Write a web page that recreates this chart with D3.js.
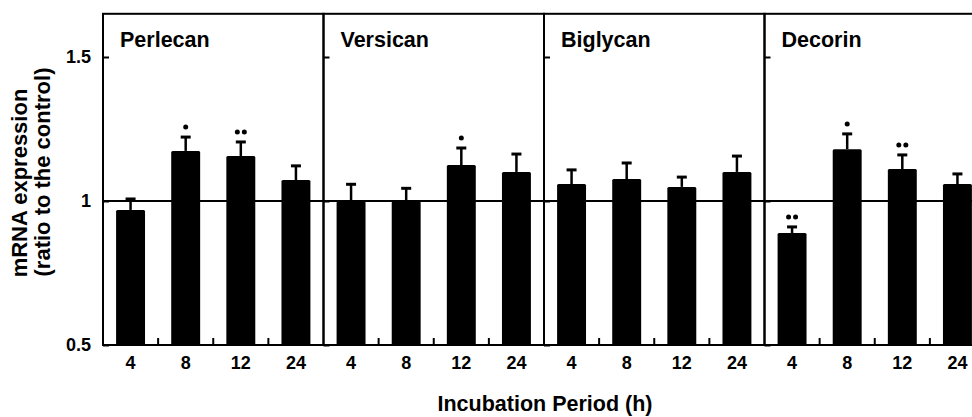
<!DOCTYPE html>
<html>
<head>
<meta charset="utf-8">
<script src="https://cdn.jsdelivr.net/npm/d3@7"></script>
<style>
	body { margin: 0; background: #ffffff; }
	svg { display: block; }
	.gag-text { font-family: "Liberation Sans", Arial, sans-serif; font-weight: bold; fill: #000000; }
</style>
</head>
<body>
<svg id="chart" width="972" height="417"></svg>
<script>

// values
var aGenes = ['Perlecan', 'Versican', 'Biglycan', 'Decorin'];
var aPeriods = ['4', '8', '12', '24'];

var aPerlecan = [0.969, 1.174, 1.156, 1.073];
var aPerlecanSE = [0.038, 0.048, 0.049, 0.049];
var aPerlecanSig = [0, 1, 2, 0];

var aVersican = [0.999, 0.999, 1.125, 1.101];
var aVersicanSE = [0.059, 0.045, 0.059, 0.062];
var aVersicanSig = [0, 0, 1, 0];

var aBiglycan = [1.059, 1.076, 1.049, 1.101];
var aBiglycanSE = [0.049, 0.056, 0.034, 0.055];
var aBiglycanSig = [0, 0, 0, 0];

var aDecorin = [0.889, 1.180, 1.111, 1.059];
var aDecorinSE = [0.021, 0.053, 0.049, 0.035];
var aDecorinSig = [2, 1, 2, 0];

var aTickValues = [0.5, 1, 1.5];
var aTickLabels = ['0.5', '1', '1.5'];


function D3_PanelBars(vSelector)
{
	var sSvg = d3.select(vSelector);
	if (sSvg.empty() == true)
	{
		console.log('D3_PanelBars: Could not identify element based on selector: ' + vSelector);
		return;
	}

	var aMeans = [aPerlecan, aVersican, aBiglycan, aDecorin];
	var aErrors = [aPerlecanSE, aVersicanSE, aBiglycanSE, aDecorinSE];
	var aSigs = [aPerlecanSig, aVersicanSig, aBiglycanSig, aDecorinSig];

	var nLeft = 103;
	var nRight = 985;
	var nAxisY = 345;

	var scaleY = d3.scaleLinear()
		.domain([0.5, 1.5])
		.range([nAxisY, 57]);
	var nTop = scaleY(1.65);

	var scalePanel = d3.scaleBand()
		.domain(aGenes)
		.range([nLeft, nRight]);
	var nPanelWidth = scalePanel.bandwidth();

	var fPadInner = 0.475;
	var scaleX = d3.scaleBand()
		.domain(aPeriods)
		.range([0, nPanelWidth])
		.paddingInner(fPadInner)
		.paddingOuter(fPadInner / 2);

	for (var nGene = 0; nGene < aGenes.length; nGene++)
	{
		var strGene = aGenes[nGene];
		var sPanel = sSvg.append('g')
			.attr('transform', 'translate(' + scalePanel(strGene) + ',0)');

		var aRows = aPeriods.map(function(strPeriod, i)
		{
			return { period: strPeriod, mean: aMeans[nGene][i], se: aErrors[nGene][i], sig: aSigs[nGene][i] };
		});

		// bars
		sPanel.selectAll('.bar')
			.data(aRows)
			.enter()
			.append('rect')
				.attr('class', 'bar')
				.attr('x', function(d) { return scaleX(d.period); })
				.attr('y', function(d) { return scaleY(d.mean); })
				.attr('width', scaleX.bandwidth())
				.attr('height', function(d) { return nAxisY - scaleY(d.mean); })
				.attr('rx', 1.5)
				.attr('fill', '#000000');

		// error bars
		aRows.forEach(function(d)
		{
			var fCx = scaleX(d.period) + scaleX.bandwidth() / 2;
			var fTop = scaleY(d.mean + d.se);
			sPanel.append('line')
				.attr('x1', fCx).attr('x2', fCx)
				.attr('y1', scaleY(d.mean)).attr('y2', fTop)
				.attr('stroke', '#000000')
				.attr('stroke-width', 2.5);
			sPanel.append('line')
				.attr('x1', fCx - 5).attr('x2', fCx + 5)
				.attr('y1', fTop).attr('y2', fTop)
				.attr('stroke', '#000000')
				.attr('stroke-width', 3);

			// significance dots
			for (var nDot = 0; nDot < d.sig; nDot++)
			{
				var fOffset = d.sig == 2 ? (nDot == 0 ? -3.5 : 3.5) : 0;
				sPanel.append('circle')
					.attr('cx', fCx + fOffset)
					.attr('cy', fTop - 10)
					.attr('r', 2.5)
					.attr('fill', '#000000');
			}
		});

		// control line at 1
		sPanel.append('line')
			.attr('x1', 0).attr('x2', nPanelWidth)
			.attr('y1', scaleY(1)).attr('y2', scaleY(1))
			.attr('stroke', '#000000')
			.attr('stroke-width', 2);

		// frame
		sPanel.append('rect')
			.attr('x', 0)
			.attr('y', nTop)
			.attr('width', nPanelWidth)
			.attr('height', nAxisY - nTop)
			.attr('fill', 'none')
			.attr('stroke', '#000000')
			.attr('stroke-width', 2);

		// y axis (ticks inside)
		var axisY = d3.axisLeft(scaleY)
			.tickValues(aTickValues)
			.tickSizeInner(-6)
			.tickSizeOuter(0)
			.tickPadding(12)
			.tickFormat(function(fValue, i)
			{
				return nGene == 0 ? aTickLabels[i] : '';
			});
		var sAxisY = sPanel.append('g').call(axisY);
		sAxisY.select('.domain').remove();
		sAxisY.selectAll('line').attr('stroke-width', 2);
		sAxisY.selectAll('text')
			.attr('class', 'gag-text')
			.style('font-size', '18px');

		// x axis labels
		var axisX = d3.axisBottom(scaleX)
			.tickSize(0)
			.tickPadding(11);
		var sAxisX = sPanel.append('g')
			.attr('transform', 'translate(0,' + nAxisY + ')')
			.call(axisX);
		sAxisX.select('.domain').remove();
		sAxisX.selectAll('text')
			.attr('class', 'gag-text')
			.style('font-size', '18px');

		// small ticks between bars
		for (var nTick = 1; nTick < aPeriods.length; nTick++)
		{
			var fTx = scaleX(aPeriods[nTick]) - scaleX.step() * fPadInner / 2;
			sPanel.append('line')
				.attr('x1', fTx).attr('x2', fTx)
				.attr('y1', nAxisY).attr('y2', nAxisY - 7)
				.attr('stroke', '#000000')
				.attr('stroke-width', 2);
		}

		// gene name
		sPanel.append('text')
			.attr('class', 'gag-text')
			.attr('x', 17)
			.attr('y', 47)
			.style('font-size', '21.5px')
			.text(strGene);
	}

	// axis titles
	sSvg.append('text')
		.attr('class', 'gag-text')
		.attr('text-anchor', 'middle')
		.attr('x', 545)
		.attr('y', 411)
		.style('font-size', '21.5px')
		.text('Incubation Period (h)');

	sSvg.append('text')
		.attr('class', 'gag-text')
		.attr('text-anchor', 'middle')
		.attr('transform', 'translate(27,183) rotate(-90)')
		.style('font-size', '22px')
		.text('mRNA expression');

	sSvg.append('text')
		.attr('class', 'gag-text')
		.attr('text-anchor', 'middle')
		.attr('transform', 'translate(50,172) rotate(-90)')
		.style('font-size', '22px')
		.text('(ratio to the control)');
}

D3_PanelBars('#chart');

</script>
</body>
</html>
